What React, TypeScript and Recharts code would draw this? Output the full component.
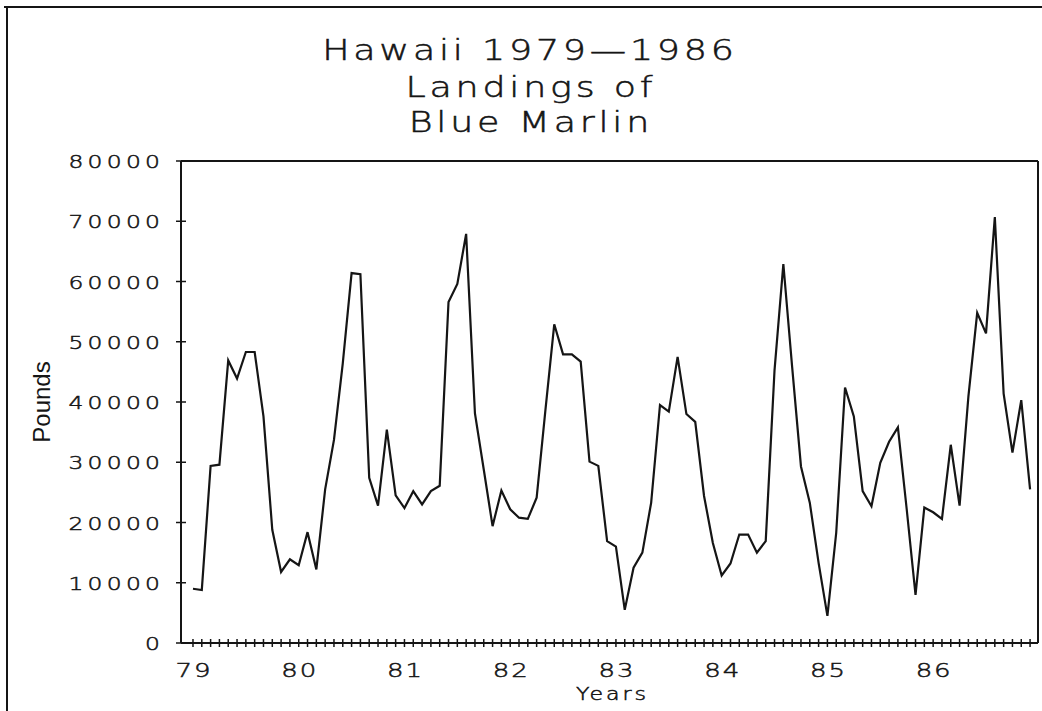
import React from 'react';
import { LineChart, Line, XAxis, YAxis } from 'recharts';

// monthly landings (pounds), Jan..Dec
const y1979 = [9000, 8800, 29400, 29600, 46900, 43900, 48300, 48300, 37600, 18800, 11800, 13900];
const y1980 = [12900, 18400, 12200, 25500, 33700, 46400, 61400, 61200, 27400, 22800, 35400, 24500];
const y1981 = [22400, 25200, 23000, 25200, 26100, 56600, 59600, 67900, 38100, 28800, 19400, 25300];
const y1982 = [22200, 20800, 20600, 24100, 38700, 52900, 47900, 47900, 46700, 30100, 29400, 16900];
const y1983 = [16000, 5500, 12500, 15000, 23300, 39500, 38400, 47500, 38000, 36700, 24400, 16600];
const y1984 = [11200, 13200, 18000, 18000, 15000, 16900, 45300, 62900, 45800, 29300, 23300, 13300];
const y1985 = [4500, 18300, 42400, 37600, 25200, 22700, 29900, 33400, 35800, 22200, 8000, 22500];
const y1986 = [21700, 20600, 32900, 22800, 40900, 54800, 51400, 70700, 41400, 31600, 40300, 25500];

const yearLabels = ['79', '80', '81', '82', '83', '84', '85', '86'];
const yTicks = [0, 10000, 20000, 30000, 40000, 50000, 60000, 70000, 80000];

const years = [y1979, y1980, y1981, y1982, y1983, y1984, y1985, y1986];
const data = years.flat().map((v, i) => ({ m: i, pounds: v }));
const monthTicks = data.map((d) => d.m);

const X_DOMAIN: [number, number] = [-1.36, 95.9];
const INK = '#151515';
const LABEL_FONT = '"DejaVu Sans", Verdana, sans-serif';
const WIDE = 1.3; // the plotter font is wider than DejaVu

// text stretched horizontally around its anchor point
const WideText = ({ x, y, size, spacing, anchor, children }: any) => (
  <text transform={`translate(${x}, ${y}) scale(${WIDE}, 1)`} textAnchor={anchor}
    dx={anchor === 'middle' ? spacing / 2 : anchor === 'end' ? spacing : 0}
    fontFamily={LABEL_FONT} fontWeight={200} fontSize={size} letterSpacing={spacing} fill={INK}
    stroke={INK} strokeWidth={0.5}>
    {children}
  </text>
);

const MonthTick = (props: any) => {
  const { x, y, payload } = props;
  const v = payload.value as number;
  const yr = v % 12 === 0 ? yearLabels[v / 12] : null;
  return (
    <g>
      <line x1={x} x2={x} y1={y - 4} y2={y + 4} stroke={INK} strokeWidth={1.5} />
      {yr && <WideText x={x} y={y + 34} size={20} spacing={1.5} anchor="middle">{yr}</WideText>}
    </g>
  );
};

const PoundTick = (props: any) => {
  const { x, y, payload } = props;
  return (
    <g>
      <line x1={x - 5} x2={x + 5} y1={y} y2={y} stroke={INK} strokeWidth={1.5} />
      <WideText x={x - 21} y={y + 7} size={18} spacing={3.3} anchor="end">{payload.value}</WideText>
    </g>
  );
};

export default function App() {
  return (
    <div style={{ position: 'absolute', left: 0, top: 0, width: 1042, height: 711, background: '#fff' }}>
      <LineChart width={1042} height={711} data={data}
        margin={{ top: 160, right: 3, bottom: 28, left: 121 }}>
        <XAxis dataKey="m" type="number" domain={X_DOMAIN} allowDataOverflow ticks={monthTicks}
          interval={0} height={40} tickSize={0} tickMargin={0} tickLine={false} tick={<MonthTick />}
          axisLine={{ stroke: INK, strokeWidth: 2 }} />
        <XAxis xAxisId="top" orientation="top" type="number" domain={X_DOMAIN} allowDataOverflow
          height={1} tick={false} tickLine={false} axisLine={{ stroke: INK, strokeWidth: 2 }} />
        <YAxis domain={[0, 80000]} ticks={yTicks} interval={0} width={60} tickSize={0} tickMargin={0}
          tickLine={false} tick={<PoundTick />} axisLine={{ stroke: INK, strokeWidth: 2 }} />
        <YAxis yAxisId="right" orientation="right" domain={[0, 80000]} width={1} tick={false}
          tickLine={false} axisLine={{ stroke: INK, strokeWidth: 2 }} />
        <Line dataKey="pounds" type="linear" stroke={INK} strokeWidth={2.2} dot={false}
          isAnimationActive={false} />
      </LineChart>
      <svg width={1042} height={711} style={{ position: 'absolute', left: 0, top: 0, pointerEvents: 'none' }}>
        <line x1={4} x2={1042} y1={7} y2={7} stroke={INK} strokeWidth={2} />
        <line x1={7} x2={7} y1={7} y2={711} stroke={INK} strokeWidth={2} />
        <WideText x={528} y={60} size={28} spacing={2.9} anchor="middle">Hawaii 1979—1986</WideText>
        <WideText x={529} y={97} size={28} spacing={2.9} anchor="middle">Landings of</WideText>
        <WideText x={529} y={132} size={28} spacing={2.9} anchor="middle">Blue Marlin</WideText>
        <WideText x={611} y={700} size={17} spacing={2.3} anchor="middle">Years</WideText>
        <text x={50} y={402} textAnchor="middle" transform="rotate(-90, 50, 402)"
          fontFamily={'"Liberation Sans Narrow", "Arial Narrow", sans-serif'} fontSize={24} fill={INK}>
          Pounds
        </text>
      </svg>
    </div>
  );
}
